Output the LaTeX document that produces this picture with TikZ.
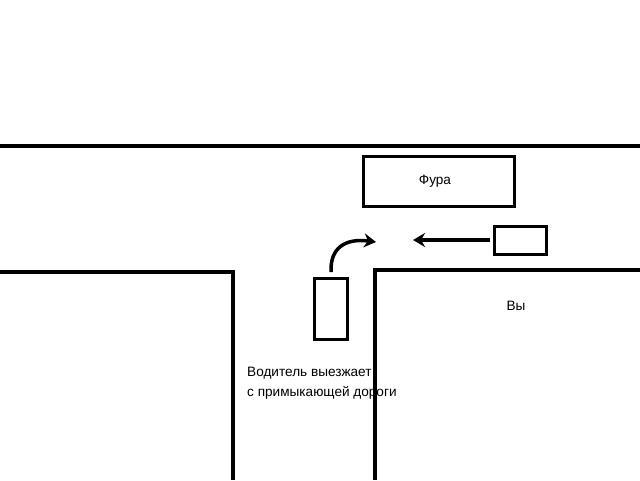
\documentclass[tikz,border=0pt]{standalone}
\usepackage{fontspec}
\setmainfont{Liberation Sans}
\usetikzlibrary{arrows.meta}
\begin{document}
\begin{tikzpicture}[x=1pt,y=-1pt,
  road/.style={line width=3.5pt},
  car/.style={draw,line width=3pt,inner sep=0pt},
  lbl/.style={font=\fontsize{13.6}{20}\selectfont,inner sep=0pt}]
\useasboundingbox (0,0) rectangle (640,480);
\draw[road] (0,146) -- (640,146);
\draw[road] (0,272) -- (233,272) -- (233,480);
\draw[road] (640,270) -- (375,270) -- (375,480);
\node[car,minimum width=151pt,minimum height=50pt] (fura) at (438.5,181) {};
\node[lbl] (furat) at (435,181) {Фура};
\node[car,minimum width=52pt,minimum height=28pt] (you) at (520,240) {};
\node[car,minimum width=33pt,minimum height=61pt] (drv) at (330.5,308.5) {};
\coordinate (a1) at (490,240);
\coordinate (a2) at (413,240);
\draw[line width=3.5pt,-{Stealth[length=12pt,width=14pt]}] (a1) -- (a2);
\coordinate (b1) at (331,272);
\coordinate (b2) at (376,242);
\draw[line width=3.5pt,-{Stealth[length=12pt,width=14pt]}] (b1) .. controls (330,248) and (345,238) .. (b2);
\node[lbl] (vy) at (516,306) {Вы};
\node[lbl,anchor=west,align=left] (txt) at (247,383) {Водитель выезжает\\с примыкающей дороги};
\end{tikzpicture}
\end{document}
